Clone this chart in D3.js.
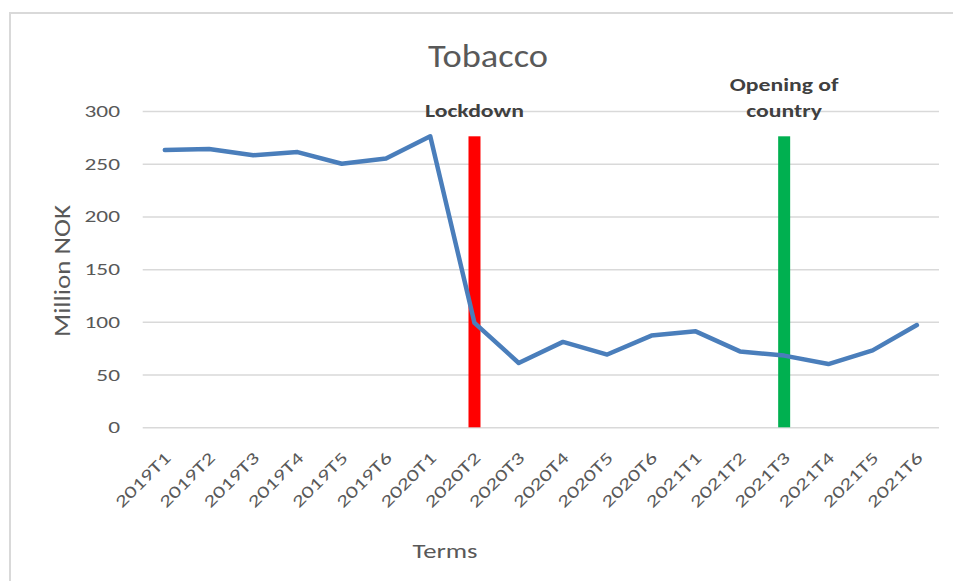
<!DOCTYPE html>
<html>
<head>
<meta charset="utf-8">
<script src="https://cdn.jsdelivr.net/npm/d3@7"></script>
<style>
  html, body { margin: 0; padding: 0; background: #ffffff; }
  svg { display: block; }
  text { font-family: Calibri, Carlito, Lato, "Open Sans", sans-serif; }
</style>
</head>
<body>
<svg id="chart" width="953" height="581"></svg>
<script>
// ---- Data ----
const categories = ["2019T1","2019T2","2019T3","2019T4","2019T5","2019T6",
                    "2020T1","2020T2","2020T3","2020T4","2020T5","2020T6",
                    "2021T1","2021T2","2021T3","2021T4","2021T5","2021T6"];
const values = [263, 264, 258, 261, 250, 255, 276, 99, 61, 81, 69, 87, 91, 72, 68, 60, 73, 97];
const yTicks = [0, 50, 100, 150, 200, 250, 300];
const markerCategories = ["2020T2", "2021T3"];
const markerValues = [276, 276];
const markerLabels = [["Lockdown"], ["Opening of", "country"]];
const chartTitle = "Tobacco";
const xTitle = "Terms";
const yTitle = "Million NOK";

// ---- Layout ----
const W = 953, H = 581;
const plot = { left: 142.7, right: 939, top: 111, bottom: 427.3 };
const markerColors = ["#ff0000", "#00b050"];

const svg = d3.select("#chart");

// horizontally stretch text glyphs by a factor (reference text is wider than the available fonts)
function stretch(sel, factor) {
  sel.each(function () {
    const len = this.getComputedTextLength();
    d3.select(this).attr("textLength", len * factor).attr("lengthAdjust", "spacingAndGlyphs");
  });
}
function factorFor(fontSize, weight, sample, targetWidth) {
  const t = svg.append("text").attr("font-size", fontSize).attr("font-weight", weight).text(sample);
  const f = targetWidth / t.node().getComputedTextLength();
  t.remove();
  return f;
}

// Outer chart border (only left/top visible in the reference)
svg.append("rect")
  .attr("x", 10).attr("y", 13)
  .attr("width", W + 20).attr("height", H + 20)
  .attr("fill", "#ffffff")
  .attr("stroke", "#d9d9d9").attr("stroke-width", 2);

const x = d3.scalePoint().domain(categories).range([plot.left, plot.right]).padding(0.5);
const y = d3.scaleLinear().domain([0, 300]).range([plot.bottom, plot.top]);

const tickFont = "17px";
const tickFactor = factorFor(tickFont, "normal", "300", 35.5);

// Gridlines + y tick labels
const yAxis = d3.axisLeft(y).tickValues(yTicks).tickSize(-(plot.right - plot.left)).tickPadding(22.7);
const gy = svg.append("g").attr("transform", `translate(${plot.left},0)`).call(yAxis);
gy.select(".domain").remove();
gy.selectAll(".tick line").attr("stroke", "#d9d9d9").attr("stroke-width", 1.5);
gy.selectAll(".tick text")
  .attr("fill", "#595959").attr("font-size", tickFont);

// X axis labels
const xAxis = d3.axisBottom(x).tickSize(0).tickPadding(0);
const gx = svg.append("g").attr("transform", `translate(0,${plot.bottom})`).call(xAxis);
gx.select(".domain").remove();
gx.selectAll(".tick text")
  .attr("fill", "#595959").attr("font-size", tickFont)
  .attr("text-anchor", "end")
  .attr("y", 0).attr("dy", "0")
  .attr("transform", "translate(6.5,31.5) rotate(-45)");
svg.selectAll("g").attr("font-family", null);
stretch(gy.selectAll(".tick text"), tickFactor);
stretch(gx.selectAll(".tick text"), tickFactor);

// Marker bars
const barW = 12;
svg.append("g").selectAll("rect.marker")
  .data(markerCategories)
  .join("rect")
  .attr("class", "marker")
  .attr("x", (d) => x(d) - barW / 2)
  .attr("y", (d, i) => y(markerValues[i]))
  .attr("width", barW)
  .attr("height", (d, i) => y(0) - y(markerValues[i]))
  .attr("fill", (d, i) => markerColors[i]);

// Line
const line = d3.line().x((d, i) => x(categories[i])).y((d) => y(d));
svg.append("path")
  .datum(values)
  .attr("d", line)
  .attr("fill", "none")
  .attr("stroke", "#4a7ebb")
  .attr("stroke-width", 4.5)
  .attr("stroke-linejoin", "round")
  .attr("stroke-linecap", "round");

// Marker labels
const markFont = "17px";
const markFactor = factorFor(markFont, "bold", "Lockdown", 99);
markerCategories.forEach((c, i) => {
  const lines = markerLabels[i];
  const baseY = 116.5 - (lines.length - 1) * 25.5;
  lines.forEach((l, j) => {
    const t = svg.append("text")
      .attr("x", x(c)).attr("y", baseY + j * 25.5)
      .attr("text-anchor", "middle")
      .attr("font-weight", "bold").attr("font-size", markFont)
      .attr("fill", "#404040")
      .text(l);
    stretch(t, markFactor);
  });
});

// Title
const title = svg.append("text")
  .attr("x", 488).attr("y", 67)
  .attr("text-anchor", "middle")
  .attr("font-size", "32px").attr("fill", "#595959")
  .text(chartTitle);
stretch(title, 120 / title.node().getComputedTextLength());

// Axis titles
const xt = svg.append("text")
  .attr("x", 445).attr("y", 558)
  .attr("text-anchor", "middle")
  .attr("font-size", "21px").attr("fill", "#595959")
  .text(xTitle);
stretch(xt, 65 / xt.node().getComputedTextLength());

const yt = svg.append("text")
  .attr("transform", "translate(70,271) rotate(-90)")
  .attr("text-anchor", "middle")
  .attr("font-size", "22px").attr("fill", "#595959")
  .text(yTitle);
stretch(yt, 132 / yt.node().getComputedTextLength());
</script>
</body>
</html>
